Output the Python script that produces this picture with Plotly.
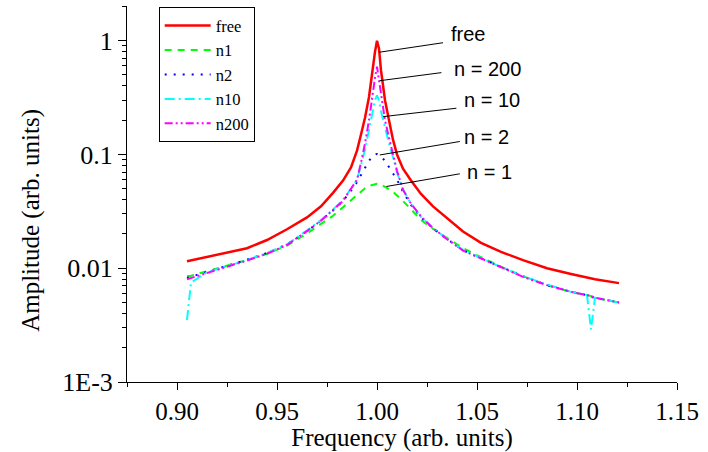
import math
import plotly.graph_objects as go

# ---------------- data ----------------
freq = [0.905, 0.907, 0.915, 0.925, 0.935, 0.945, 0.955, 0.965, 0.972, 0.978,
        0.983, 0.987, 0.990, 0.992, 0.994, 0.996, 0.998, 0.999, 1.000, 1.001,
        1.002, 1.004, 1.006, 1.008, 1.010, 1.013, 1.017, 1.022, 1.028, 1.035,
        1.043, 1.052, 1.062, 1.073, 1.085, 1.097, 1.105, 1.107, 1.109, 1.121]

amp_free = [0.0115, 0.0117, 0.0126, 0.0137, 0.0150, 0.0177, 0.0220, 0.0280, 0.0350, 0.0460,
            0.0590, 0.0770, 0.108, 0.150, 0.210, 0.320, 0.630, 0.800, 1.000, 0.850,
            0.550, 0.300, 0.200, 0.135, 0.100, 0.075, 0.059, 0.045, 0.035, 0.0275,
            0.0210, 0.0167, 0.0139, 0.0118, 0.0100, 0.0089, 0.0083, 0.0082, 0.0080, 0.0074]

amp_n1 = [0.0085, 0.0086, 0.0094, 0.0105, 0.0118, 0.0134, 0.0158, 0.0202, 0.0245, 0.0289,
          0.0344, 0.0395, 0.0440, 0.0470, 0.0505, 0.0530, 0.0545, 0.0550, 0.0552, 0.0552,
          0.0545, 0.0520, 0.0495, 0.0470, 0.0435, 0.0390, 0.0330, 0.0265, 0.0222, 0.0185,
          0.0150, 0.0125, 0.0103, 0.0085, 0.0071, 0.0062, 0.0058, 0.0057, 0.0055, 0.0050]

amp_n2 = [0.0082, 0.0084, 0.0093, 0.0105, 0.0119, 0.0136, 0.0162, 0.0212, 0.0262, 0.0322,
          0.0390, 0.0480, 0.0570, 0.0660, 0.0770, 0.0880, 0.0970, 0.1000, 0.1010, 0.0990,
          0.0960, 0.0880, 0.0780, 0.0680, 0.0600, 0.0470, 0.0360, 0.0280, 0.0224, 0.0181,
          0.0144, 0.0122, 0.0102, 0.0085, 0.0071, 0.0062, 0.0058, 0.0056, 0.0055, 0.0050]

amp_n10 = [0.0035, 0.0075, 0.0092, 0.0104, 0.0118, 0.0136, 0.0162, 0.0215, 0.0265, 0.0328,
           0.0400, 0.0500, 0.0600, 0.0800, 0.1100, 0.1650, 0.2500, 0.3000, 0.3300, 0.3000,
           0.2400, 0.1700, 0.1250, 0.0950, 0.0700, 0.0490, 0.0370, 0.0282, 0.0226, 0.0182,
           0.0145, 0.0123, 0.0102, 0.0085, 0.0072, 0.0062, 0.0058, 0.0029, 0.0055, 0.0050]

amp_n200 = [0.0080, 0.0082, 0.0091, 0.0103, 0.0117, 0.0134, 0.0160, 0.0212, 0.0262, 0.0325,
            0.0390, 0.0500, 0.0600, 0.0850, 0.1250, 0.2000, 0.3700, 0.4700, 0.5900, 0.4500,
            0.3200, 0.2000, 0.1400, 0.1000, 0.0720, 0.0490, 0.0370, 0.0285, 0.0225, 0.0180,
            0.0143, 0.0122, 0.0102, 0.0084, 0.0071, 0.0062, 0.0058, 0.0057, 0.0055, 0.0050]

series_names = ["free", "n1", "n2", "n10", "n200"]
series_values = [amp_free, amp_n1, amp_n2, amp_n10, amp_n200]

y_tick_vals = [0.001, 0.01, 0.1, 1]
y_tick_text = ["1E-3", "0.01", "0.1", "1"]
x_tick_vals = [0.90, 0.95, 1.00, 1.05, 1.10, 1.15]

# curve labels: (text, label centre f, label centre amp, line start f, start amp, tip f, tip amp)
curve_labels = [
    ("free",    1.0454, 1.146,  1.0330, 0.960, 1.0010, 0.791),
    ("n = 200", 1.0554, 0.565,  1.0322, 0.524, 1.0014, 0.445),
    ("n = 10",  1.0576, 0.301,  1.0397, 0.255, 1.0030, 0.215),
    ("n = 2",   1.0549, 0.1435, 1.0414, 0.130, 1.0014, 0.099),
    ("n = 1",   1.0564, 0.0703, 1.0414, 0.0676, 1.0047, 0.0523),
]

# ---------------- styles ----------------
styles = {
    "free": dict(color="#ff0000", width=2.5, dash="solid"),
    "n1":   dict(color="#00ff00", width=2, dash="7px,6px"),
    "n2":   dict(color="#0000ff", width=2, dash="2px,7px"),
    "n10":  dict(color="#00ffff", width=2, dash="10px,4px,2px,4px"),
    "n200": dict(color="#ff00ff", width=2, dash="8px,3px,2px,3px,2px,3px"),
}

fig = go.Figure()
for name, vals in zip(series_names, series_values):
    fig.add_trace(go.Scatter(x=freq, y=vals, mode="lines", name=name,
                             line=styles[name]))

serif = "Times New Roman, Liberation Serif, serif"
sans = "Arial, Liberation Sans, sans-serif"

for text, tx, ty, x0, y0, x1, y1 in curve_labels:
    fig.add_shape(type="line", xref="x", yref="y", x0=x0, y0=y0, x1=x1, y1=y1,
                  line=dict(color="black", width=1))
    fig.add_annotation(x=tx, y=math.log10(ty), xref="x", yref="y", text=text,
                       showarrow=False, font=dict(family=sans, size=20, color="black"),
                       xanchor="center", yanchor="middle")

# y-axis title (placed as rotated text, slightly below the axis centre as in the reference)
fig.add_annotation(x=-0.1745, y=0.4287, xref="paper", yref="paper",
                   text="Amplitude (arb. units)", textangle=-90, showarrow=False,
                   font=dict(family=serif, size=25, color="black"),
                   xanchor="center", yanchor="middle")

fig.update_layout(
    width=708, height=452,
    margin=dict(l=127, r=31, t=6, b=70, autoexpand=False),
    paper_bgcolor="white", plot_bgcolor="white",
    showlegend=True,
    legend=dict(x=0.0576, y=0.9965, xanchor="left", yanchor="top",
                bordercolor="black", borderwidth=1, bgcolor="white",
                font=dict(family=serif, size=16.5, color="black"),
                itemwidth=46, tracegroupgap=0),
    font=dict(family=serif, color="black"),
)

fig.update_xaxes(
    range=[0.875, 1.15], showgrid=False, zeroline=False, automargin=False,
    showline=True, linecolor="black", linewidth=1,
    tickvals=x_tick_vals, tickformat=".2f",
    ticks="outside", ticklen=7, tickcolor="black",
    minor=dict(ticks="outside", ticklen=4, tickcolor="black", dtick=0.025, showgrid=False),
    tickfont=dict(family=serif, size=25, color="black"),
    title=dict(text="Frequency (arb. units)", font=dict(family=serif, size=25, color="black"),
               standoff=3),
)

fig.update_yaxes(
    type="log", range=[-3, 0.305], showgrid=False, zeroline=False, automargin=False,
    showline=True, linecolor="black", linewidth=1,
    tickvals=y_tick_vals, ticktext=y_tick_text,
    ticks="outside", ticklen=8, tickcolor="black",
    minor=dict(ticks="outside", ticklen=4, tickcolor="black", dtick="D1", showgrid=False),
    tickfont=dict(family=serif, size=26, color="black"),
)

fig.write_html("out.html", config={"displayModeBar": False},
               post_script="document.body.style.margin='0';document.body.style.padding='0';")
